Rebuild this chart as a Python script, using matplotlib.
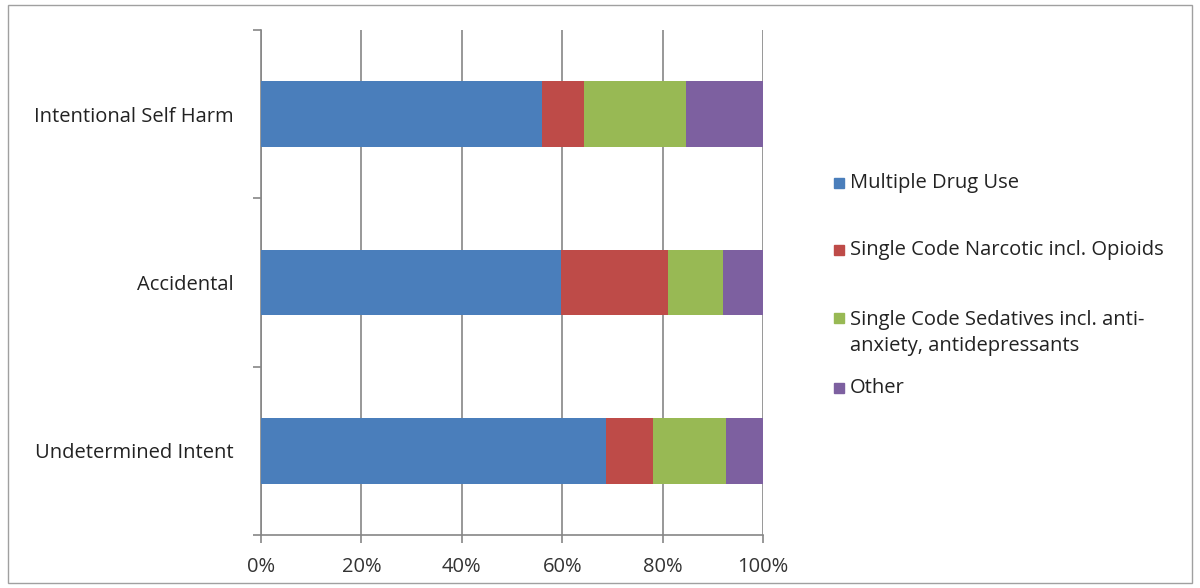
import matplotlib.pyplot as plt
from matplotlib.patches import Rectangle
import numpy as np

plt.rcParams["font.family"] = ["Open Sans", "DejaVu Sans"]

categories = ["Intentional Self Harm", "Accidental", "Undetermined Intent"]
series = [
    "Multiple Drug Use",
    "Single Code Narcotic incl. Opioids",
    "Single Code Sedatives incl. anti-\nanxiety, antidepressants",
    "Other",
]
multiple_drug = [55.9, 59.7, 68.7]
narcotic = [8.4, 21.3, 9.3]
sedatives = [20.4, 11.0, 14.6]
other = [15.3, 8.0, 7.4]
colors = ["#4A7EBB", "#BE4B48", "#98B954", "#7D60A0"]
x_ticks = [0, 20, 40, 60, 80, 100]

values = [multiple_drug, narcotic, sedatives, other]

fig = plt.figure(figsize=(12, 5.88), dpi=100)
ax = fig.add_axes([261 / 1200, 1 - 535 / 588, 502 / 1200, 505 / 588])

y = np.arange(len(categories))
left = np.zeros(len(categories))
for vals, color in zip(values, colors):
    ax.barh(y, vals, left=left, height=0.39, color=color, zorder=3)
    left += np.array(vals)

ax.set_xlim(0, 100)
ax.set_ylim(len(categories) - 0.5, -0.5)
ax.set_xticks(x_ticks)
ax.set_xticklabels([f"{t}%" for t in x_ticks], fontsize=14.5, color="#333333")
ax.set_yticks(y)
ax.set_yticklabels(categories, fontsize=14.5, color="#222222")
ax.set_yticks(np.arange(-0.5, len(categories)), minor=True)
ax.tick_params(axis="y", which="major", length=0, pad=20)
ax.tick_params(axis="y", which="minor", length=6, color="#868686", width=1.2, direction="out")
ax.tick_params(axis="x", length=6, color="#868686", width=1.2, direction="out", pad=10)

ax.grid(axis="x", color="#868686", linewidth=1.2, zorder=0)
for side in ["top", "right"]:
    ax.spines[side].set_visible(False)
for side in ["left", "bottom"]:
    ax.spines[side].set_color("#868686")
    ax.spines[side].set_linewidth(1.2)

# legend drawn by hand to mimic the Excel layout
legend_y = [183, 250, 333, 388]
for name, color, ly in zip(series, colors, legend_y):
    first_line_y = ly - 15 if "\n" in name else ly
    fig.patches.append(Rectangle((834 / 1200, 1 - (first_line_y + 5) / 588), 10 / 1200, 10 / 588,
                                 transform=fig.transFigure, color=color))
    fig.text(850 / 1200, 1 - ly / 588, name, fontsize=14.5, color="#222222",
             va="center", ha="left", linespacing=1.45)

fig.patches.append(Rectangle((8 / 1200, 5 / 588), 1184 / 1200, 578 / 588,
                             transform=fig.transFigure, fill=False, edgecolor="#A0A0A0", linewidth=1))

fig.savefig("out.png", dpi=100)
